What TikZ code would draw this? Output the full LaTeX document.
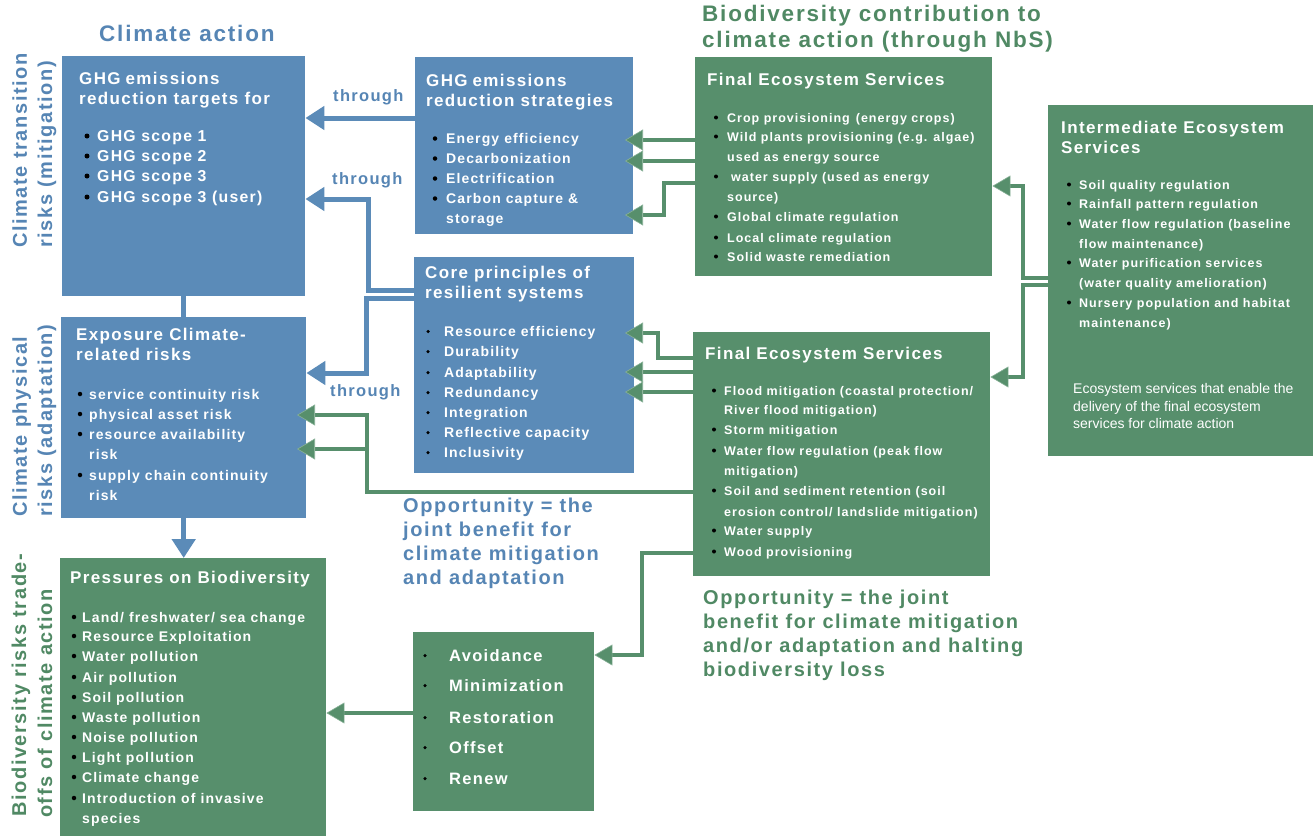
\documentclass[tikz,border=0pt]{standalone}
\usepackage{fontspec}
\setmainfont{Liberation Sans}
\newfontfamily\bsp{Liberation Sans}[LetterSpace=8]
\usetikzlibrary{arrows.meta}

\definecolor{boxblue}{RGB}{91,139,184}
\definecolor{boxgreen}{RGB}{87,143,108}
\definecolor{txtblue}{RGB}{86,133,180}
\definecolor{txtgreen}{RGB}{80,137,100}

\newcommand\fsz[1]{\fontsize{#1}{#1}\selectfont}
% #1 name prefix, #2 bullet x, #3 text x, #4 node options,
% #5 bullet diameter, #6 bullet raise, #7 list  y/bullet?/text
\newcommand\blist[7]{%
  \foreach \ly/\lk/\lt [count=\li] in {#7}{%
    \node[txt, #4] (#1-\li) at (#3,\ly) {\lt};
    \ifnum\lk=1\relax
      \node[dot, minimum size=#5] (#1-d\li) at (#2,\ly-#6) {};
    \fi}}

\begin{document}
\begin{tikzpicture}[x=1pt, y=-1pt,
  bbox/.style={fill=boxblue, draw=none, inner sep=0, anchor=north west},
  gbox/.style={fill=boxgreen, draw=none, inner sep=0, anchor=north west},
  txt/.style={anchor=base west, inner sep=0},
  dot/.style={circle, fill=black, draw=none, inner sep=0},
  ttl/.style={text=white, font=\bsp\bfseries\fsz{17}},
  bline/.style={draw=boxblue, line width=5pt},
  gline/.style={draw=boxgreen, line width=4pt},
  barrow/.style={bline, -{Triangle[length=19pt, width=23pt]}},
  garrow/.style={gline, -{Triangle[length=18pt, width=21pt, color=boxgreen!70!white, fill=boxgreen, line width=0.6pt]}},
  blabel/.style={anchor=base west, inner sep=0, text=txtblue, font=\bsp\bfseries\fsz{16.5}},
  side/.style={rotate=90, anchor=base west, inner sep=0, font=\bsp\bfseries\fsz{20}},
  ]
\useasboundingbox (0,0) rectangle (1315,838);

% ---------- boxes ----------
\node[bbox, minimum width=243pt, minimum height=240pt] (A) at (62,56) {};
\node[bbox, minimum width=245pt, minimum height=201pt] (B) at (61,317) {};
\node[gbox, minimum width=266pt, minimum height=278pt] (P) at (60,558) {};
\node[bbox, minimum width=218pt, minimum height=177pt] (C) at (415,57) {};
\node[bbox, minimum width=220pt, minimum height=216pt] (D) at (414,257) {};
\node[gbox, minimum width=297pt, minimum height=219pt] (E) at (695,57) {};
\node[gbox, minimum width=297pt, minimum height=244pt] (F) at (693,332) {};
\node[gbox, minimum width=265pt, minimum height=351pt] (G) at (1048,105) {};
\node[gbox, minimum width=181pt, minimum height=179pt] (H) at (413,632) {};

% ---------- headings ----------
\node[txt, text=txtblue, font=\bsp\bfseries\fsz{22.5}] (hclim) at (99,41) {Climate action};
\node[txt, text=txtgreen, font=\bsp\bfseries\fsz{22.5}] (hbio1) at (702,21) {Biodiversity contribution to};
\node[txt, text=txtgreen, font=\bsp\bfseries\fsz{22.5}] (hbio2) at (702,47) {climate action (through NbS)};

\node[side, text=txtblue] (s1a) at (27,248) {Climate transition};
\node[side, text=txtblue] (s1b) at (52,248) {risks (mitigation)};
\node[side, text=txtblue] (s2a) at (27,517) {Climate physical};
\node[side, text=txtblue] (s2b) at (52,517) {risks (adaptation)};
\node[side, text=txtgreen] (s3a) at (26,817) {Biodiversity risks trade-};
\node[side, text=txtgreen] (s3b) at (52,818) {offs of climate action};

% ---------- box contents ----------
\blist{At}{0}{79}{ttl}{0pt}{0}{84/0/{GHG\hspace{5pt}emissions},104/0/{reduction targets for}}
\blist{Ab}{87}{97}{text=white, font=\bsp\bfseries\fsz{15.8}}{5pt}{5}{%
  141/1/{GHG scope 1},161/1/{GHG scope 2},181/1/{GHG scope 3},202/1/{GHG scope 3 (user)}}

\blist{Ct}{0}{426}{ttl}{0pt}{0}{86/0/{GHG\hspace{5pt}emissions},106/0/{reduction strategies}}
\blist{Cb}{435}{446}{text=white, font=\bsp\bfseries\fsz{14}}{4.5pt}{4.5}{%
  143/1/{Energy efficiency},163/1/{Decarbonization},183/1/{Electrification},
  203/1/{Carbon capture \&},223/0/{storage}}

\blist{Dt}{0}{425}{ttl}{0pt}{0}{278/0/{Core principles of},298/0/{resilient systems}}
\blist{Db}{428}{444}{text=white, font=\bsp\bfseries\fsz{14}}{3.5pt}{4.5}{%
  336/1/{Resource efficiency},356/1/{Durability},377/1/{Adaptability},397/1/{Redundancy},
  417/1/{Integration},437/1/{Reflective capacity},457/1/{Inclusivity}}

\blist{Bt}{0}{76}{ttl}{0pt}{0}{340/0/{Exposure Climate-},360/0/{related risks}}
\blist{Bb}{80}{89}{text=white, font=\bsp\bfseries\fsz{14}}{4.5pt}{5}{%
  399/1/{service continuity risk},419/1/{physical asset risk},439/1/{resource availability},
  459/0/{risk},480/1/{supply chain continuity},500/0/{risk}}

\blist{Pt}{0}{70}{ttl}{0pt}{0}{583/0/{Pressures on Biodiversity}}
\blist{Pb}{74}{82}{text=white, font=\bsp\bfseries\fsz{14}}{4.5pt}{5}{%
  622/1/{Land/ freshwater/ sea change},641/1/{Resource Exploitation},661/1/{Water pollution},
  682/1/{Air pollution},702/1/{Soil pollution},722/1/{Waste pollution},742/1/{Noise pollution},
  762/1/{Light pollution},782/1/{Climate change},803/1/{Introduction of invasive},823/0/{species}}

\blist{Et}{0}{707}{ttl}{0pt}{0}{85/0/{Final Ecosystem Services}}
\blist{Eb}{716}{727}{text=white, font=\bsp\bfseries\fsz{12.5}}{4pt}{4.5}{%
  122/1/{Crop provisioning\hspace{6pt}(energy crops)},141/1/{Wild plants provisioning (e.g. algae)},
  161/0/{used as energy source},181/1/{\hspace{4pt}water supply (used as energy},201/0/{source)},
  221/1/{Global climate regulation},242/1/{Local climate regulation},261/1/{Solid waste remediation}}

\blist{Ft}{0}{705}{ttl}{0pt}{0}{359/0/{Final Ecosystem Services}}
\blist{Fb}{714}{724}{text=white, font=\bsp\bfseries\fsz{12.5}}{4pt}{4.5}{%
  395/1/{Flood mitigation (coastal protection/},414/0/{River flood mitigation)},
  434/1/{Storm mitigation},455/1/{Water flow regulation (peak flow},475/0/{mitigation)},
  495/1/{Soil and sediment retention (soil},516/0/{erosion control/ landslide mitigation)},
  535/1/{Water supply},556/1/{Wood provisioning}}

\blist{Gt}{0}{1061}{ttl}{0pt}{0}{133/0/{Intermediate Ecosystem},153/0/{Services}}
\blist{Gb}{1069}{1079}{text=white, font=\bsp\bfseries\fsz{12.5}}{4pt}{4.5}{%
  189/1/{Soil quality regulation},208/1/{Rainfall pattern regulation},
  228/1/{Water flow regulation (baseline},248/0/{flow maintenance)},
  267/1/{Water purification services},287/0/{(water quality amelioration)},
  307/1/{Nursery population and habitat},327/0/{maintenance)}}
\blist{Gd}{0}{1073}{text=white, font=\fsz{14}}{0pt}{0}{%
  393/0/{Ecosystem services that enable the},411/0/{delivery of the final ecosystem},
  428/0/{services for climate action}}

\blist{Hb}{425}{449}{text=white, font=\bsp\bfseries\fsz{16.5}}{3.5pt}{5.5}{%
  661/1/{Avoidance},691/1/{Minimization},723/1/{Restoration},753/1/{Offset},784/1/{Renew}}

% ---------- free labels ----------
\node[blabel] (th1) at (333,101) {through};
\node[blabel] (th2) at (332,184) {through};
\node[blabel] (th3) at (330,396) {through};

\blist{Ob}{0}{403}{text=txtblue, font=\bsp\bfseries\fsz{20}}{0pt}{0}{%
  512/0/{Opportunity = the},536/0/{joint benefit for},560/0/{climate mitigation},584/0/{and adaptation}}
\blist{Og}{0}{703}{text=txtgreen, font=\bsp\bfseries\fsz{20}}{0pt}{0}{%
  604/0/{Opportunity = the joint},628/0/{benefit for climate mitigation},
  652/0/{and/or adaptation and halting},676/0/{biodiversity loss}}

% ---------- connectors ----------
\coordinate (Cin) at (625,0);
\coordinate (Din) at (625,0);
\coordinate (Bin) at (297,0);
\coordinate (jB) at (367,449);

% climate action chain
\draw[barrow] (C.west |- 0,118) -- (A.east |- 0,118);
\draw[barrow] (D.west |- 0,290) -| (368,199) -- (A.east |- 0,199);
\draw[barrow] (D.west |- 0,298) -| (366,373) -- (B.east |- 0,373);
\draw[bline] (A.south) -- (A.south |- B.north);
\draw[barrow] (B.south) -- (B.south |- P.north);

% nature-based contributions
\draw[garrow] (E.west |- 0,140) -- (Cin |- 0,140);
\draw[garrow] (E.west |- 0,161) -- (Cin |- 0,161);
\draw[garrow] (E.west |- 0,183) -| (664,215) -- (Cin |- 0,215);
\draw[garrow] (F.west |- 0,358) -| (658,333) -- (Din |- 0,333);
\draw[garrow] (F.west |- 0,372) -- (Din |- 0,372);
\draw[garrow] (F.west |- 0,392) -- (Din |- 0,392);
\draw[garrow] (F.west |- 0,492) -| (367,415) -- (Bin |- 0,415);
\draw[garrow] (jB) -- (Bin |- 0,449);
\draw[garrow] (G.west |- 0,278) -| (1023,186) -- (E.east |- 0,186);
\draw[garrow] (G.west |- 0,285) -| (1023,377) -- (F.east |- 0,377);
\draw[garrow] (F.west |- 0,553) -| (642,655) -- (H.east |- 0,655);
\draw[garrow] (H.west |- 0,713) -- (P.east |- 0,713);
\end{tikzpicture}
\end{document}
